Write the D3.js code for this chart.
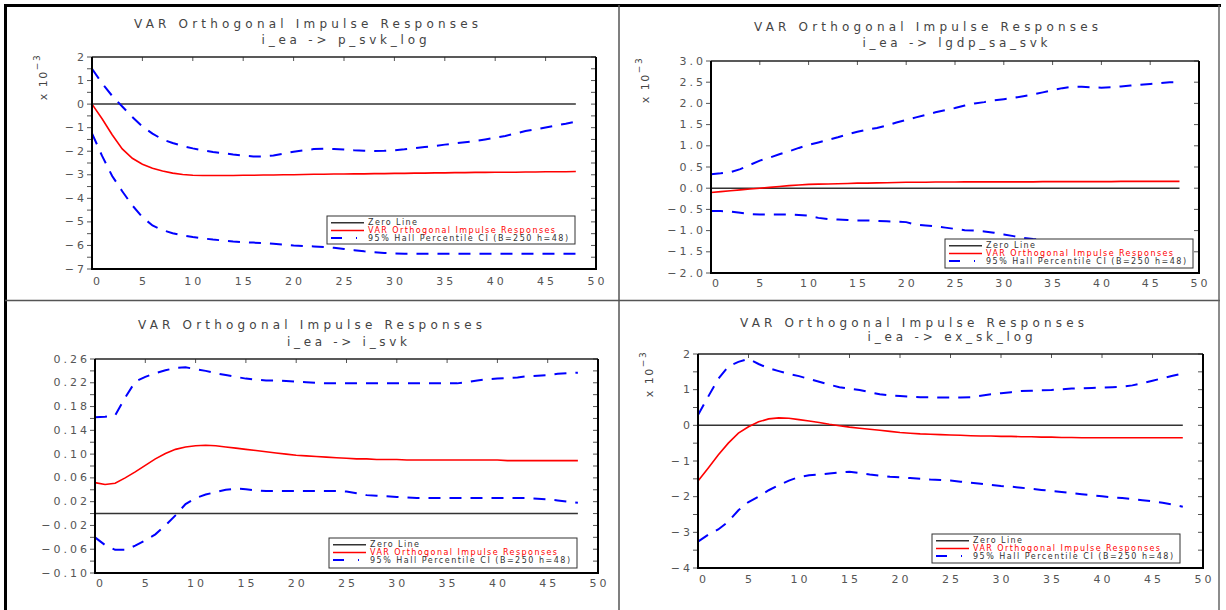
<!DOCTYPE html>
<html>
<head>
<meta charset="utf-8">
<script src="https://cdn.jsdelivr.net/npm/d3@7"></script>
<style>
  html, body { margin: 0; padding: 0; background: #fff; }
  svg { display: block; font-family: "DejaVu Sans", sans-serif; }
</style>
</head>
<body>
<svg id="chart" width="1226" height="610"></svg>
<script>
// ---------------- DATA ----------------
const horizon = d3.range(0, 49);   // response horizons 0..48
const xTicks = [0, 5, 10, 15, 20, 25, 30, 35, 40, 45, 50];

const legendLabels = ["Zero Line", "VAR Orthogonal Impulse Responses", "95% Hall Percentile CI (B=250 h=48)"];
const mainTitle = "VAR Orthogonal Impulse Responses";

// Panel 1: i_ea -> p_svk_log (values in units of 10^-3)
const p1Sub = "i_ea -> p_svk_log";
const p1YTicks = [2, 1, 0, -1, -2, -3, -4, -5, -6, -7];
const p1Irf = [0, -0.62, -1.3, -1.9, -2.3, -2.55, -2.72, -2.84, -2.93, -2.99, -3.02, -3.03, -3.03, -3.03, -3.03, -3.02, -3.02, -3.01, -3.01, -3.0,
  -3.0, -2.99, -2.98, -2.98, -2.97, -2.97, -2.96, -2.96, -2.95, -2.95, -2.94, -2.94, -2.93, -2.93, -2.92, -2.92, -2.91, -2.91, -2.9, -2.9,
  -2.89, -2.89, -2.89, -2.88, -2.88, -2.87, -2.87, -2.87, -2.86];
const p1Upper = [1.5, 0.88, 0.35, -0.1, -0.55, -0.95, -1.25, -1.5, -1.65, -1.78, -1.88, -1.96, -2.03, -2.08, -2.14, -2.19, -2.22, -2.22, -2.18, -2.1,
  -2.02, -1.96, -1.91, -1.89, -1.91, -1.93, -1.96, -1.98, -1.99, -1.98, -1.96, -1.92, -1.87, -1.82, -1.78, -1.72, -1.67, -1.62, -1.57, -1.5,
  -1.43, -1.35, -1.25, -1.14, -1.07, -0.99, -0.91, -0.83, -0.74];
const p1Lower = [-1.24, -2.2, -3.05, -3.7, -4.3, -4.8, -5.15, -5.35, -5.48, -5.57, -5.64, -5.7, -5.75, -5.79, -5.83, -5.86, -5.88, -5.9, -5.93, -5.96,
  -6.0, -6.02, -6.04, -6.07, -6.1, -6.15, -6.2, -6.25, -6.29, -6.32, -6.34, -6.35, -6.35, -6.35, -6.35, -6.35, -6.35, -6.35, -6.35, -6.35,
  -6.35, -6.35, -6.35, -6.35, -6.35, -6.35, -6.35, -6.35, -6.35];

// Panel 2: i_ea -> lgdp_sa_svk (values in units of 10^-3)
const p2Sub = "i_ea -> lgdp_sa_svk";
const p2YTicks = [3.0, 2.5, 2.0, 1.5, 1.0, 0.5, 0.0, -0.5, -1.0, -1.5, -2.0];
const p2Irf = [-0.1, -0.08, -0.06, -0.04, -0.02, 0.0, 0.02, 0.04, 0.06, 0.075, 0.09, 0.095, 0.1, 0.105, 0.11, 0.12, 0.12, 0.125, 0.13, 0.135,
  0.14, 0.14, 0.14, 0.145, 0.145, 0.145, 0.15, 0.15, 0.15, 0.15, 0.15, 0.15, 0.15, 0.15, 0.155, 0.155, 0.155, 0.155, 0.155, 0.155,
  0.155, 0.155, 0.16, 0.16, 0.16, 0.16, 0.16, 0.16, 0.16];
const p2Upper = [0.33, 0.35, 0.38, 0.45, 0.55, 0.65, 0.72, 0.8, 0.87, 0.95, 1.02, 1.08, 1.14, 1.2, 1.27, 1.33, 1.38, 1.42, 1.48, 1.55,
  1.61, 1.67, 1.73, 1.79, 1.84, 1.89, 1.95, 2.0, 2.03, 2.07, 2.1, 2.13, 2.17, 2.21, 2.26, 2.31, 2.36, 2.39, 2.39, 2.38,
  2.37, 2.38, 2.4, 2.42, 2.44, 2.46, 2.48, 2.5, 2.5];
const p2Lower = [-0.54, -0.54, -0.55, -0.58, -0.61, -0.62, -0.62, -0.62, -0.62, -0.63, -0.65, -0.7, -0.73, -0.74, -0.75, -0.76, -0.76, -0.77, -0.78, -0.79,
  -0.8, -0.86, -0.88, -0.9, -0.93, -0.96, -0.99, -1.0, -1.02, -1.05, -1.09, -1.13, -1.17, -1.2, -1.22, -1.24, -1.26, -1.28, -1.3, -1.32,
  -1.34, -1.36, -1.38, -1.4, -1.42, -1.44, -1.46, -1.48, -1.5];

// Panel 3: i_ea -> i_svk
const p3Sub = "i_ea -> i_svk";
const p3YTicks = [0.26, 0.22, 0.18, 0.14, 0.10, 0.06, 0.02, -0.02, -0.06, -0.10];
const p3Irf = [0.052, 0.049, 0.051, 0.06, 0.07, 0.081, 0.092, 0.101, 0.108, 0.112, 0.114, 0.115, 0.114, 0.112, 0.11, 0.108, 0.106, 0.104, 0.102, 0.1,
  0.098, 0.097, 0.096, 0.095, 0.094, 0.093, 0.092, 0.092, 0.091, 0.091, 0.091, 0.09, 0.09, 0.09, 0.09, 0.09, 0.09, 0.09, 0.09, 0.09,
  0.09, 0.089, 0.089, 0.089, 0.089, 0.089, 0.089, 0.089, 0.089];
const p3Upper = [0.162, 0.163, 0.165, 0.195, 0.222, 0.23, 0.236, 0.241, 0.245, 0.246, 0.243, 0.24, 0.236, 0.233, 0.23, 0.227, 0.225, 0.224, 0.224, 0.223,
  0.222, 0.221, 0.22, 0.219, 0.219, 0.219, 0.219, 0.219, 0.219, 0.219, 0.219, 0.219, 0.219, 0.219, 0.219, 0.219, 0.219, 0.221, 0.224, 0.226,
  0.227, 0.228, 0.229, 0.231, 0.232, 0.233, 0.235, 0.236, 0.237];
const p3Lower = [-0.04, -0.053, -0.061, -0.061, -0.054, -0.045, -0.035, -0.02, -0.003, 0.016, 0.026, 0.032, 0.036, 0.04, 0.042, 0.041, 0.039, 0.038, 0.038, 0.038,
  0.038, 0.038, 0.038, 0.038, 0.038, 0.037, 0.034, 0.031, 0.03, 0.029, 0.028, 0.027, 0.026, 0.026, 0.026, 0.026, 0.026, 0.026, 0.026, 0.026,
  0.026, 0.026, 0.026, 0.026, 0.025, 0.024, 0.022, 0.02, 0.018];

// Panel 4: i_ea -> ex_sk_log (values in units of 10^-3)
const p4Sub = "i_ea -> ex_sk_log";
const p4YTicks = [2, 1, 0, -1, -2, -3, -4];
const p4Irf = [-1.56, -1.2, -0.83, -0.5, -0.22, -0.04, 0.1, 0.18, 0.21, 0.2, 0.16, 0.12, 0.08, 0.03, -0.01, -0.05, -0.08, -0.11, -0.14, -0.17,
  -0.2, -0.22, -0.24, -0.25, -0.26, -0.27, -0.28, -0.29, -0.3, -0.3, -0.31, -0.31, -0.32, -0.32, -0.33, -0.33, -0.34, -0.34, -0.35, -0.35,
  -0.35, -0.35, -0.35, -0.35, -0.35, -0.35, -0.35, -0.35, -0.35];
const p4Upper = [0.29, 0.8, 1.3, 1.65, 1.78, 1.86, 1.72, 1.6, 1.52, 1.44, 1.38, 1.3, 1.22, 1.14, 1.07, 1.03, 0.99, 0.93, 0.87, 0.84,
  0.82, 0.8, 0.79, 0.79, 0.78, 0.78, 0.78, 0.79, 0.83, 0.87, 0.9, 0.93, 0.96, 0.97, 0.98, 0.99, 1.01, 1.03, 1.04, 1.05,
  1.06, 1.07, 1.08, 1.12, 1.18, 1.25, 1.32, 1.39, 1.45];
const p4Lower = [-3.26, -3.07, -2.92, -2.7, -2.38, -2.15, -2.0, -1.82, -1.68, -1.55, -1.45, -1.4, -1.38, -1.35, -1.32, -1.3, -1.34, -1.38, -1.41, -1.44,
  -1.46, -1.48, -1.5, -1.52, -1.53, -1.55, -1.58, -1.61, -1.64, -1.67, -1.7, -1.72, -1.75, -1.78, -1.81, -1.84, -1.87, -1.9, -1.93, -1.96,
  -1.99, -2.02, -2.04, -2.07, -2.1, -2.13, -2.17, -2.22, -2.28];

// ---------------- LAYOUT ----------------
const panels = [
  { sub: p1Sub, irf: p1Irf, upper: p1Upper, lower: p1Lower, yTicks: p1YTicks, yDom: [-7, 2], minor: 0.5, fmt: d3.format("d"),
    x0: 92, x1: 596, y0: 57, y1: 269, title: [306, 24], subPos: [344, 40], subLen: 165, yLab: [43, 77], edge: true,
    leg: [327, 216, 248, 28], xLabY: 281 },
  { sub: p2Sub, irf: p2Irf, upper: p2Upper, lower: p2Lower, yTicks: p2YTicks, yDom: [-2, 3], minor: 0.5, fmt: d3.format(".1f"),
    x0: 711, x1: 1199, y0: 61, y1: 273, title: [926, 27], subPos: [955, 43], subLen: 185, yLab: [645, 80], edge: false,
    leg: [945, 239, 248, 29], xLabY: 283 },
  { sub: p3Sub, irf: p3Irf, upper: p3Upper, lower: p3Lower, yTicks: p3YTicks, yDom: [-0.10, 0.26], minor: 0.02, fmt: d3.format(".2f"),
    x0: 95, x1: 598, y0: 359, y1: 573, title: [310, 325], subPos: [347, 342], subLen: 120, yLab: null, edge: false,
    leg: [329, 538, 248, 30], xLabY: 583 },
  { sub: p4Sub, irf: p4Irf, upper: p4Upper, lower: p4Lower, yTicks: p4YTicks, yDom: [-4, 2], minor: 0.5, fmt: d3.format("d"),
    x0: 698, x1: 1203, y0: 354, y1: 568, title: [912, 323], subPos: [950, 337], subLen: 165, yLab: [649, 374], edge: true,
    leg: [932, 534, 248, 29], xLabY: 579 }
];

const svg = d3.select("#chart");
svg.append("rect").attr("width", 1226).attr("height", 610).attr("fill", "#fff");

const txtCol = "#444";
const fmtMinus = (s) => s.replace("-", "\u2212 ");

panels.forEach(p => {
  const g = svg.append("g");
  const x = d3.scaleLinear().domain([0, 50]).range([p.x0, p.x1]);
  const y = d3.scaleLinear().domain(p.yDom).range([p.y1, p.y0]);

  // titles
  g.append("text").attr("x", p.title[0]).attr("y", p.title[1]).attr("text-anchor", "middle")
    .attr("dominant-baseline", "central").attr("font-size", 12).attr("fill", txtCol)
    .attr("textLength", 344).attr("lengthAdjust", "spacing").text(mainTitle);
  g.append("text").attr("x", p.subPos[0]).attr("y", p.subPos[1]).attr("text-anchor", "middle")
    .attr("dominant-baseline", "central").attr("font-size", 12).attr("fill", txtCol)
    .attr("textLength", p.subLen).attr("lengthAdjust", "spacing").text(p.sub);

  // y label
  if (p.yLab) {
    const t = g.append("text").attr("transform", `translate(${p.yLab[0]},${p.yLab[1]}) rotate(-90)`)
      .attr("text-anchor", "middle").attr("dominant-baseline", "central")
      .attr("font-size", 11).attr("fill", txtCol).attr("letter-spacing", 1.5);
    t.append("tspan").text("x 10");
    t.append("tspan").attr("dy", -6).attr("font-size", 9).text("\u22123");
  }

  // frame ticks: left outward, right inward (minor), top inward (5-steps)
  const [lo, hi] = p.yDom;
  const nMinor = Math.round((hi - lo) / p.minor);
  const minorVals = d3.range(0, nMinor + 1).map(i => lo + i * p.minor);
  g.selectAll(".lt").data(minorVals).join("line")
    .attr("x1", p.x0 - 5).attr("x2", p.x0).attr("y1", d => y(d)).attr("y2", d => y(d))
    .attr("stroke", "#555").attr("stroke-width", 1);
  g.selectAll(".rt").data(minorVals).join("line")
    .attr("x1", p.x1 - 5).attr("x2", p.x1).attr("y1", d => y(d)).attr("y2", d => y(d))
    .attr("stroke", "#555").attr("stroke-width", 1);
  g.selectAll(".tt").data(xTicks).join("line")
    .attr("x1", d => x(d)).attr("x2", d => x(d)).attr("y1", p.y0).attr("y2", p.y0 + 4)
    .attr("stroke", "#555").attr("stroke-width", 1);

  // y tick labels
  g.selectAll(".yl").data(p.yTicks).join("text")
    .attr("x", p.x0 - 5).attr("y", d => y(d)).attr("text-anchor", "end")
    .attr("dominant-baseline", "central").attr("font-size", 11).attr("letter-spacing", 3)
    .attr("fill", "#555").text(d => fmtMinus(p.fmt(d)));
  // x tick labels
  g.selectAll(".xl").data(xTicks).join("text")
    .attr("x", d => x(d) + (d === 0 ? 6 : 1.5)).attr("y", p.xLabY).attr("text-anchor", "middle")
    .attr("dominant-baseline", "central").attr("font-size", 11).attr("letter-spacing", 3)
    .attr("fill", "#555").text(d => d);

  // zero line
  const line = d3.line().x((d, i) => x(horizon[i])).y(d => y(d));
  const zeros = horizon.map(() => 0);
  g.append("path").attr("d", line(zeros)).attr("fill", "none").attr("stroke", "#333").attr("stroke-width", 1.5);

  // CI bands
  [p.upper, p.lower].forEach(s => {
    g.append("path").attr("d", line(s)).attr("fill", "none").attr("stroke", "#0000ff")
      .attr("stroke-width", 2).attr("stroke-dasharray", "12,9");
  });
  if (p.edge) {
    g.append("line").attr("x1", x(0)).attr("x2", x(0)).attr("y1", y(p.upper[0])).attr("y2", y(p.lower[0]))
      .attr("stroke", "#0000ff").attr("stroke-width", 2);
  }
  // IRF
  g.append("path").attr("d", line(p.irf)).attr("fill", "none").attr("stroke", "#ff0000").attr("stroke-width", 1.6);

  // plot frame
  g.append("line").attr("x1", p.x0).attr("x2", p.x1).attr("y1", p.y0).attr("y2", p.y0).attr("stroke", "#222").attr("stroke-width", 1.3);
  g.append("line").attr("x1", p.x0).attr("x2", p.x0).attr("y1", p.y0).attr("y2", p.y1).attr("stroke", "#000").attr("stroke-width", 2);
  g.append("line").attr("x1", p.x1).attr("x2", p.x1).attr("y1", p.y0).attr("y2", p.y1).attr("stroke", "#000").attr("stroke-width", 2);
  g.append("line").attr("x1", p.x0 - 1).attr("x2", p.x1 + 1).attr("y1", p.y1).attr("y2", p.y1).attr("stroke", "#000").attr("stroke-width", 2);

  // legend
  const [lx, ly, lw, lh] = p.leg;
  const lg = g.append("g");
  lg.append("rect").attr("x", lx).attr("y", ly).attr("width", lw).attr("height", lh)
    .attr("fill", "#fff").attr("stroke", "#333").attr("stroke-width", 1);
  const rows = [
    { y: ly + 6.7, col: "#333", tcol: "#333", len: 49 },
    { y: ly + 14.5, col: "#ff0000", tcol: "#ff0000", len: 187 },
    { y: ly + 22, col: "#0000ff", tcol: "#333", len: 200 }
  ];
  rows.forEach((r, i) => {
    if (i < 2) {
      lg.append("line").attr("x1", lx + 4).attr("x2", lx + 37).attr("y1", r.y).attr("y2", r.y)
        .attr("stroke", r.col).attr("stroke-width", 1.5);
    } else {
      lg.append("line").attr("x1", lx + 4).attr("x2", lx + 37).attr("y1", r.y).attr("y2", r.y)
        .attr("stroke", r.col).attr("stroke-width", 1.8).attr("stroke-dasharray", "11,14,1,20");
    }
    lg.append("text").attr("x", lx + 41).attr("y", r.y).attr("dominant-baseline", "central")
      .attr("font-size", 8).attr("fill", r.tcol).attr("textLength", r.len).attr("lengthAdjust", "spacing")
      .text(legendLabels[i]);
  });
});

// panel borders
const border = svg.append("g");
border.append("line").attr("x1", 4).attr("x2", 1221).attr("y1", 5.5).attr("y2", 5.5).attr("stroke", "#000").attr("stroke-width", 3);
border.append("line").attr("x1", 5.5).attr("x2", 5.5).attr("y1", 4).attr("y2", 610).attr("stroke", "#000").attr("stroke-width", 3);
border.append("line").attr("x1", 619).attr("x2", 619).attr("y1", 5).attr("y2", 610).attr("stroke", "#555").attr("stroke-width", 1.5);
border.append("line").attr("x1", 5).attr("x2", 1220).attr("y1", 300.5).attr("y2", 300.5).attr("stroke", "#555").attr("stroke-width", 1.5);
border.append("line").attr("x1", 1219).attr("x2", 1219).attr("y1", 5).attr("y2", 610).attr("stroke", "#666").attr("stroke-width", 1.5);
</script>
</body>
</html>
